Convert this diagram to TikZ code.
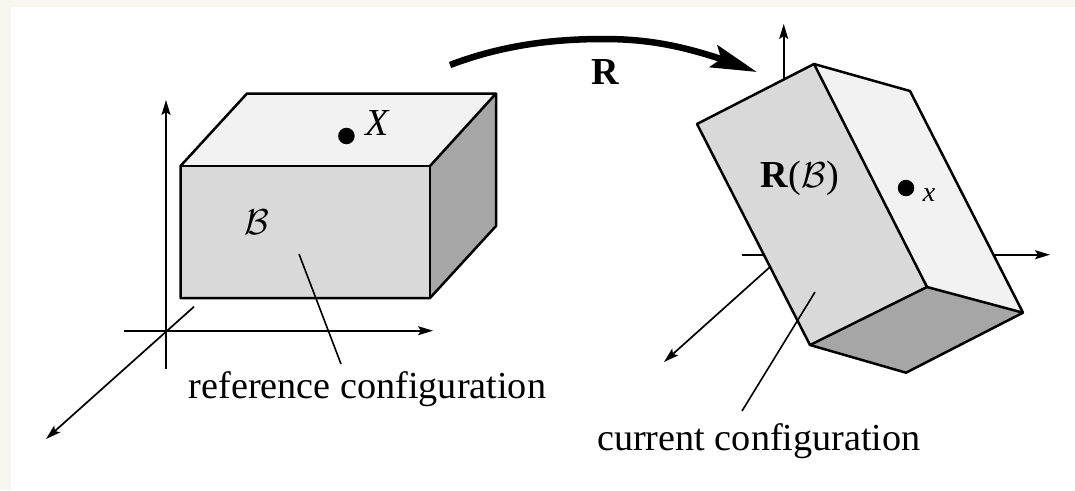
\documentclass[tikz,border=0pt]{standalone}
\usepackage{graphicx}
\usepackage{fontspec}
\setmainfont{Liberation Serif}
\usetikzlibrary{arrows.meta,bending}
\definecolor{pagecream}{HTML}{F7F7F0}
\definecolor{facefront}{HTML}{D9D9D9}
\definecolor{facetop}{HTML}{F2F2F2}
\definecolor{faceside}{HTML}{A6A6A6}
\newcommand{\calB}{\scalebox{3.6}{\fontsize{10}{12}\selectfont$\mathcal{B}$}}
\tikzset{
  edgeline/.style={draw=black,line width=2.5pt,line join=round},
  axisarrow/.style={draw=black,line width=1.7pt,-{Stealth[length=15pt,width=9pt,inset=3pt]}},
  thinline/.style={draw=black,line width=1.6pt},
  pointdot/.style={circle,fill=black,inner sep=0pt,minimum size=16.5pt},
  biglabel/.style={inner sep=0pt,font=\fontsize{38.2}{44}\selectfont},
  smalllabel/.style={inner sep=0pt,font=\fontsize{28}{32}\selectfont},
}
\begin{document}
\begin{tikzpicture}[x=1pt,y=-1pt]
\useasboundingbox (0,0) rectangle (1075,490);
\fill[pagecream] (0,0) rectangle (1075,490);
\fill[white] (11,7) rectangle (1075,490);

% left axes (behind the box)
\coordinate (lvb) at (166,369);
\coordinate (lvt) at (166,100);
\coordinate (lhl) at (124,330.7);
\coordinate (lhr) at (433,330.7);
\coordinate (ldt) at (194,306.7);
\coordinate (ldb) at (46,439);
\draw[axisarrow] (lvb) -- (lvt);
\draw[axisarrow] (lhl) -- (lhr);
\draw[axisarrow] (ldt) -- (ldb);

% left box
\coordinate (a) at (180.5,166);
\coordinate (b) at (430,166);
\coordinate (c) at (430,298);
\coordinate (d) at (180.5,298);
\coordinate (e) at (247,93.5);
\coordinate (f) at (496,93.5);
\coordinate (g) at (496,226);
\fill[facetop] (a) -- (e) -- (f) -- (b) -- cycle;
\fill[facefront] (a) -- (b) -- (c) -- (d) -- cycle;
\fill[faceside] (b) -- (f) -- (g) -- (c) -- cycle;
\draw[edgeline] (a) -- (e) -- (f) -- (g) -- (c) -- (d) -- cycle;
\draw[edgeline] (a) -- (b) -- (c);
\draw[edgeline] (b) -- (f);

\node[pointdot] (Xdot) at (346.4,136) {};
\node[biglabel] (Xlab) at (378,122.5) {\textit{X}};
\node[inner sep=0pt] (Blab) at (256.5,222) {\calB};

\coordinate (ll1) at (299,254);
\coordinate (ll2) at (341,364);
\draw[thinline] (ll1) -- (ll2);
\node[biglabel,anchor=base west] (reflab) at (188.5,398) {reference configuration};

% rotation arrow
\coordinate (rs) at (450,65);
\coordinate (rp) at (603,39);
\coordinate (rt) at (757,72);
\draw[black,line width=6.5pt,-{Stealth[length=46pt,width=23pt,inset=8pt,flex]}]
  (rs) .. controls (500,46) and (550,39) .. (rp)
       .. controls (650,39) and (690,46) .. (rt);
\node[biglabel,font=\fontsize{38.2}{44}\selectfont\bfseries] (Rlab) at (605.5,72) {R};

% right axes (behind the box)
\coordinate (rvb) at (783.7,100);
\coordinate (rvt) at (783.7,24);
\coordinate (rhl) at (742,254.7);
\coordinate (rhr) at (1050,254.7);
\coordinate (rdt) at (790,249);
\coordinate (rdb) at (664,362);
\draw[axisarrow] (rvb) -- (rvt);
\draw[axisarrow] (rhl) -- (rhr);
\draw[axisarrow] (rdt) -- (rdb);

% right box
\coordinate (p) at (814,64);
\coordinate (q) at (697,124);
\coordinate (r) at (910,91);
\coordinate (s) at (810,345);
\coordinate (t) at (927,287);
\coordinate (u) at (1023,312.7);
\coordinate (v) at (906,372.7);
\fill[facefront] (q) -- (p) -- (t) -- (s) -- cycle;
\fill[facetop] (p) -- (r) -- (u) -- (t) -- cycle;
\fill[faceside] (s) -- (t) -- (u) -- (v) -- cycle;
\draw[edgeline] (q) -- (p) -- (r) -- (u) -- (v) -- (s) -- cycle;
\draw[edgeline] (p) -- (t) -- (s);
\draw[edgeline] (t) -- (u);

\node[pointdot] (xdot) at (906,188) {};
\node[smalllabel] (xlab) at (929,195) {\textit{x}};
\node[biglabel] (RBlab) at (800,178) {\textbf{R}(\calB)};

\coordinate (rl1) at (815,292);
\coordinate (rl2) at (742,411);
\draw[thinline] (rl1) -- (rl2);
\node[biglabel,anchor=base west] (curlab) at (597,450) {current configuration};
\end{tikzpicture}
\end{document}
